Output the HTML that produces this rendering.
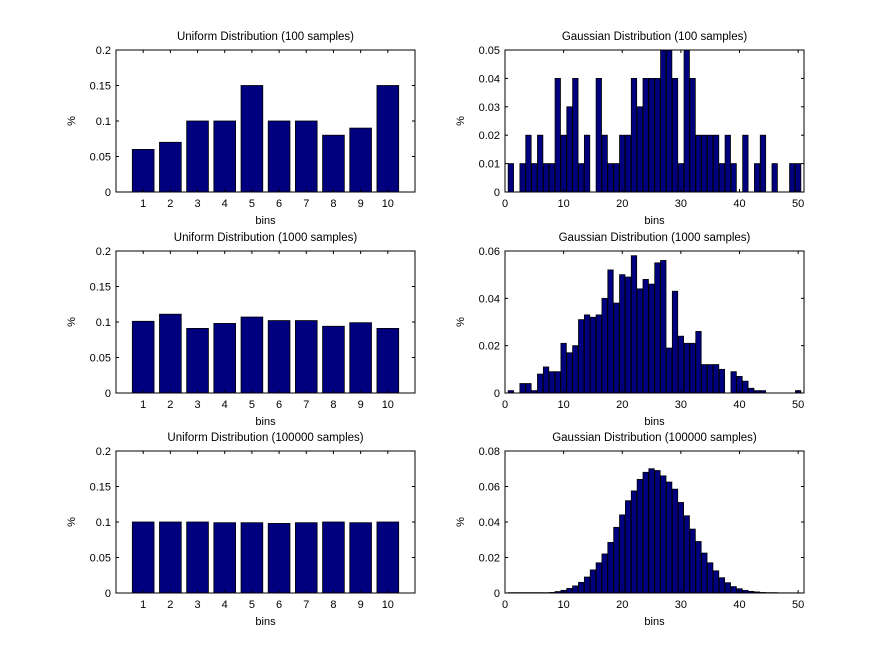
<!DOCTYPE html>
<html><head><meta charset="utf-8"><style>
body{margin:0;background:#fff;}
svg{display:block;font-family:"Liberation Sans",sans-serif;}
</style></head><body>
<svg id="fig" width="888" height="670" viewBox="0 0 888 670"></svg>
<script>
const uniformCats = [1,2,3,4,5,6,7,8,9,10];
const uniform100 = [0.06,0.07,0.1,0.1,0.15,0.1,0.1,0.08,0.09,0.15];
const uniform1000 = [0.101,0.111,0.091,0.098,0.107,0.102,0.102,0.094,0.099,0.091];
const uniform100000 = [0.1,0.1,0.1,0.099,0.099,0.098,0.099,0.1,0.099,0.1];
const uniformTicks = [0,0.05,0.1,0.15,0.2];
const uniformTickLabels = ["0","0.05","0.1","0.15","0.2"];

const gaussCats = Array.from({length:50},(_,i)=>i+1);
const gauss100 = [0.01,0,0.01,0.02,0.01,0.02,0.01,0.01,0.04,0.02,0.03,0.04,0.01,0.02,0,0.04,0.02,0.01,0.01,0.02,0.02,0.04,0.03,0.04,0.04,0.04,0.05,0.05,0.04,0.01,0.05,0.04,0.02,0.02,0.02,0.02,0.01,0.02,0.01,0,0.02,0,0.01,0.02,0,0.01,0,0,0.01,0.01];
const gauss1000 = [0.001,0,0.004,0.004,0.001,0.008,0.011,0.009,0.009,0.021,0.017,0.020,0.031,0.033,0.032,0.033,0.040,0.052,0.038,0.050,0.049,0.058,0.044,0.048,0.046,0.055,0.056,0.019,0.043,0.024,0.021,0.021,0.026,0.012,0.012,0.012,0.010,0,0.009,0.007,0.005,0.002,0.001,0.001,0,0,0,0,0,0.001];
const gauss100000 = [0.0002,0.0002,0.0002,0.0002,0.0002,0.0002,0.0002,0.0003,0.0008,0.0015,0.0026,0.004,0.006,0.009,0.013,0.017,0.022,0.0285,0.037,0.044,0.052,0.0575,0.064,0.068,0.070,0.069,0.066,0.0625,0.0585,0.051,0.0435,0.036,0.029,0.0225,0.017,0.0125,0.0086,0.0058,0.0036,0.0024,0.0015,0.0009,0.0006,0.0003,0.0002,0.0002,0.0001,0.0001,0.0001,0.0001];
const gaussXTicks = [0,10,20,30,40,50];
const g100Ticks = [0,0.01,0.02,0.03,0.04,0.05];
const g1000Ticks = [0,0.02,0.04,0.06];
const g100000Ticks = [0,0.02,0.04,0.06,0.08];

const NS="http://www.w3.org/2000/svg";
const svg=document.getElementById('fig');
function mk(tag,attrs,parent){const e=document.createElementNS(NS,tag);for(const k in attrs)e.setAttribute(k,attrs[k]);(parent||svg).appendChild(e);return e;}

function panel(name,title,x0,y0,w,h,xmax,ymax,cats,vals,xt,xtl,yt,ytl,barW){
  const g=mk('g',{});
  
  
  const sx=v=>x0+v/xmax*w, sy=v=>y0+h-v/ymax*h;
  mk('rect',{x:x0,y:y0,width:w,height:h,fill:'#fff',stroke:'none'},g);
  cats.forEach((c,i)=>{
    const v=Math.min(vals[i],ymax); if(v<=0)return;
    const b=mk('rect',{x:sx(c-barW/2),y:sy(v),width:sx(c+barW/2)-sx(c-barW/2),height:sy(0)-sy(v),fill:'#00007f',stroke:'#000','stroke-width':0.8},g);
    
    
  });
  mk('rect',{x:x0,y:y0,width:w,height:h,fill:'none',stroke:'#000','stroke-width':1},g);
  xt.forEach((t,i)=>{
    const x=sx(t);
    mk('line',{x1:x,x2:x,y1:y0+h,y2:y0+h-3,stroke:'#000'},g);
    mk('line',{x1:x,x2:x,y1:y0,y2:y0+3,stroke:'#000'},g);
    const tx=mk('text',{x:x,y:y0+h+15,'font-size':11,'text-anchor':'middle'},g);tx.textContent=xtl[i];
    
    
  });
  yt.forEach((t,i)=>{
    const y=sy(t);
    mk('line',{x1:x0,x2:x0+3,y1:y,y2:y,stroke:'#000'},g);
    mk('line',{x1:x0+w,x2:x0+w-3,y1:y,y2:y,stroke:'#000'},g);
    const tx=mk('text',{x:x0-5,y:y+4,'font-size':11,'text-anchor':'end'},g);tx.textContent=ytl[i];
    
    
  });
  const tt=mk('text',{x:x0+w/2,y:y0-10,'font-size':11.5,'text-anchor':'middle'},g);tt.textContent=title;
  
  
  const xl=mk('text',{x:x0+w/2,y:y0+h+32,'font-size':11,'text-anchor':'middle'},g);xl.textContent='bins';
  
  
  const yx=x0-41, yy=y0+h/2;
  const yl=mk('text',{x:yx,y:yy,'font-size':11,'text-anchor':'middle',transform:`rotate(-90 ${yx} ${yy})`},g);yl.textContent='%';
  
  
}
const fmt=a=>a.map(v=>String(v));
const rows=[50,251,451];
panel('uniform-100-panel','Uniform Distribution (100 samples)',116,rows[0],299,142,11,0.2,uniformCats,uniform100,uniformCats,fmt(uniformCats),uniformTicks,uniformTickLabels,0.8);
panel('uniform-1000-panel','Uniform Distribution (1000 samples)',116,rows[1],299,142,11,0.2,uniformCats,uniform1000,uniformCats,fmt(uniformCats),uniformTicks,uniformTickLabels,0.8);
panel('uniform-100000-panel','Uniform Distribution (100000 samples)',116,rows[2],299,142,11,0.2,uniformCats,uniform100000,uniformCats,fmt(uniformCats),uniformTicks,uniformTickLabels,0.8);
panel('gauss-100-panel','Gaussian Distribution (100 samples)',505,rows[0],299,142,51,0.05,gaussCats,gauss100,gaussXTicks,fmt(gaussXTicks),g100Ticks,fmt(g100Ticks),0.92);
panel('gauss-1000-panel','Gaussian Distribution (1000 samples)',505,rows[1],299,142,51,0.06,gaussCats,gauss1000,gaussXTicks,fmt(gaussXTicks),g1000Ticks,fmt(g1000Ticks),0.92);
panel('gauss-100000-panel','Gaussian Distribution (100000 samples)',505,rows[2],299,142,51,0.08,gaussCats,gauss100000,gaussXTicks,fmt(gaussXTicks),g100000Ticks,fmt(g100000Ticks),0.92);
</script>
</body></html>
